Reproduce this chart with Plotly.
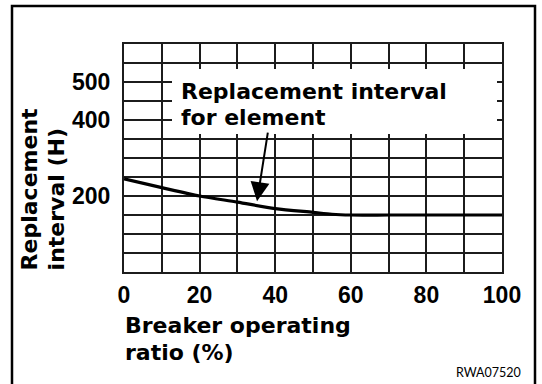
import plotly.graph_objects as go

# Breaker operating ratio (%) vs. element replacement interval (hours)
ratio_pct = [0, 10, 20, 30, 40, 50, 55, 60, 70, 80, 90, 100]
interval_h = [245, 222, 200, 184, 167, 157, 152, 150, 150, 150, 150, 150]

x_ticks = list(range(0, 101, 10))
x_tick_text = ["0", "", "20", "", "40", "", "60", "", "80", "", "100"]
y_ticks = list(range(0, 601, 50))
y_tick_text = ["" if v not in (200, 400, 500) else str(v) for v in y_ticks]

W, H = 542, 384
ML, MR, MT, MB = 124, 40, 44, 112
PW, PH = W - ML - MR, H - MT - MB


def px(x):
    return (x - ML) / PW


def py(y):
    return (H - MB - y) / PH


BOLD_NUM = "Liberation Sans, Arial, sans-serif"
BOLD_TXT = "DejaVu Sans, Verdana, sans-serif"

fig = go.Figure()
fig.add_trace(go.Scatter(
    x=ratio_pct, y=interval_h, mode="lines",
    line=dict(color="black", width=3.2, shape="spline", smoothing=0.8),
    hoverinfo="skip", showlegend=False,
))

axis_common = dict(
    showgrid=True, gridcolor="#1c1c1c", gridwidth=1.5,
    showline=True, linecolor="#1c1c1c", linewidth=2, mirror=True,
    zeroline=False, ticks="", fixedrange=True,
    tickfont=dict(family=BOLD_NUM, size=23, color="black", weight="bold"),
)
fig.update_xaxes(range=[0, 100], tickmode="array", tickvals=x_ticks,
                 ticktext=x_tick_text, ticklabelstandoff=1, **axis_common)
fig.update_yaxes(range=[0, 600], tickmode="array", tickvals=y_ticks,
                 ticktext=y_tick_text, ticklabelstandoff=7, **axis_common)

shapes = [
    # outer frame of the figure
    dict(type="rect", xref="paper", yref="paper",
         x0=px(12), x1=px(535), y0=py(420), y1=py(6),
         line=dict(color="black", width=2.5), layer="below"),
    # white panel behind the callout text
    dict(type="rect", xref="paper", yref="paper",
         x0=px(172), x1=px(497), y0=py(134), y1=py(69),
         fillcolor="white", line=dict(width=0), layer="above"),
]

txt_font = dict(family=BOLD_TXT, size=22, color="black", weight="bold")

annotations = [
    dict(text="Replacement interval", x=px(179), y=py(91.5),
         xref="paper", yref="paper", xanchor="left", yanchor="middle",
         showarrow=False, font=txt_font),
    dict(text="for element", x=px(179), y=py(117.2),
         xref="paper", yref="paper", xanchor="left", yanchor="middle",
         showarrow=False, font=txt_font),
    # pointer from the callout to the curve
    dict(text="", x=35.2, y=186.5, xref="x", yref="y",
         ax=11, ay=-70, showarrow=True, arrowhead=2, arrowsize=1.9,
         arrowwidth=2, arrowcolor="black"),
    dict(text="Breaker operating", x=px(123), y=py(325.7),
         xref="paper", yref="paper", xanchor="left", yanchor="middle",
         showarrow=False, font=txt_font),
    dict(text="ratio (%)", x=px(123), y=py(352.4),
         xref="paper", yref="paper", xanchor="left", yanchor="middle",
         showarrow=False, font=txt_font),
    dict(text="Replacement", x=px(29.4), y=py(272),
         xref="paper", yref="paper", xanchor="center", yanchor="bottom",
         textangle=-90, showarrow=False, font=txt_font),
    dict(text="interval (H)", x=px(56.4), y=py(272),
         xref="paper", yref="paper", xanchor="center", yanchor="bottom",
         textangle=-90, showarrow=False, font=txt_font),
    dict(text="RWA07520", x=px(523), y=py(372),
         xref="paper", yref="paper", xanchor="right", yanchor="middle",
         showarrow=False, font=dict(family="Lato, Open Sans, sans-serif",
                                    size=12.5, color="black")),
]

fig.update_layout(
    width=W, height=H,
    margin=dict(l=ML, r=MR, t=MT, b=MB),
    paper_bgcolor="white", plot_bgcolor="white",
    shapes=shapes, annotations=annotations,
    showlegend=False,
)

fig.write_html("out.html", config={"displayModeBar": False})
